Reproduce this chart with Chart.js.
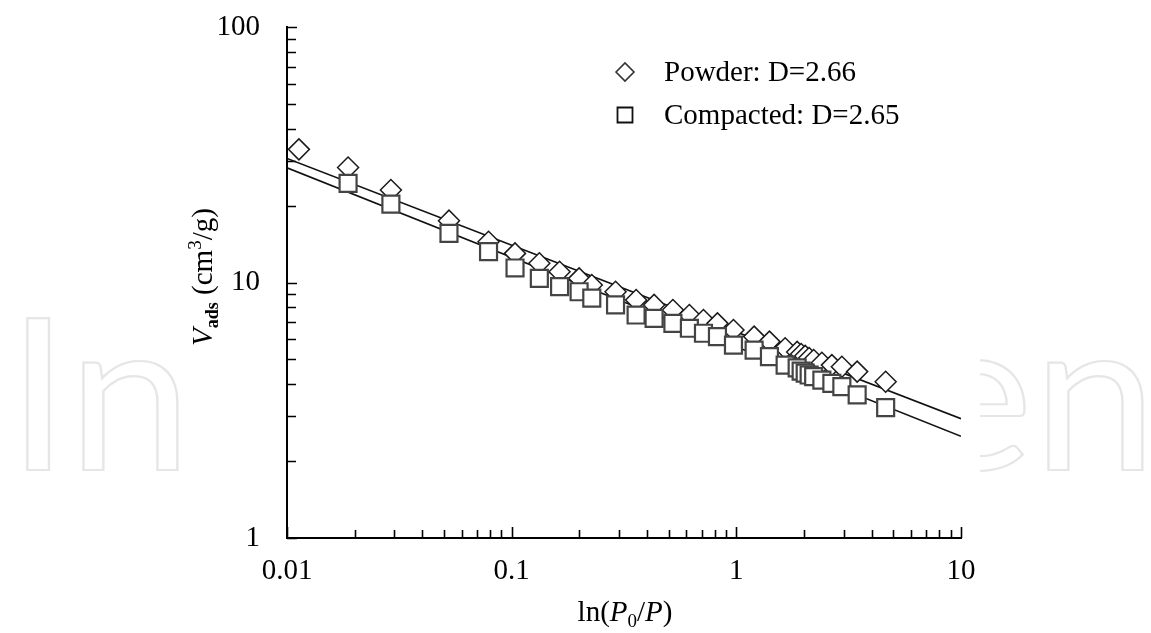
<!DOCTYPE html>
<html>
<head>
<meta charset="utf-8">
<script src="https://cdn.jsdelivr.net/npm/chart.js"></script>
<style>
  html, body { margin: 0; padding: 0; background: #fff; }
  #wrap { width: 1151px; height: 633px; }
</style>
</head>
<body>
<div id="wrap"><canvas id="c" width="1151" height="633"></canvas></div>
<script>
// Fractal (FHH) plot: adsorbed volume vs ln(P0/P), log-log
const powderX = [0.0113, 0.0187, 0.029, 0.0526, 0.0789, 0.1035, 0.1328, 0.1634, 0.1996, 0.2273,
                 0.290, 0.358, 0.4305, 0.522, 0.618, 0.714, 0.824, 0.971, 1.20, 1.404,
                 1.649, 1.865, 1.943, 2.025, 2.109, 2.209, 2.403, 2.662, 2.949, 3.45, 4.62];
const powderY = [33.2, 28.2, 23.0, 17.46, 14.44, 13.0, 11.89, 11.02, 10.38, 9.78,
                 9.20, 8.54, 8.17, 7.80, 7.46, 7.13, 6.92, 6.52, 6.14, 5.87,
                 5.53, 5.35, 5.25, 5.16, 5.06, 4.97, 4.85, 4.75, 4.68, 4.48, 4.09];
const compactedX = [0.0187, 0.029, 0.0526, 0.0789, 0.1035, 0.1328, 0.1634, 0.1996, 0.2273,
                    0.290, 0.358, 0.4305, 0.522, 0.618, 0.714, 0.824, 0.971, 1.20, 1.404,
                    1.649, 1.865, 1.943, 2.025, 2.109, 2.209, 2.403, 2.662, 2.949, 3.45, 4.62];
const compactedY = [24.45, 20.28, 15.58, 13.20, 11.40, 10.38, 9.63, 9.20, 8.68,
                    8.17, 7.46, 7.24, 6.92, 6.62, 6.33, 6.14, 5.69, 5.44, 5.13,
                    4.75, 4.63, 4.50, 4.42, 4.345, 4.28, 4.15, 4.03, 3.91, 3.63, 3.24];

// fitted power-law lines, end points at the axis limits
const powderFitX = [0.01, 10];
const powderFitY = [30.6, 2.93];
const compactedFitX = [0.01, 10];
const compactedFitY = [28.1, 2.50];

const xTickValues = [0.01, 0.1, 1, 10];
const yTickValues = [1, 10, 100];
const minorMultipliers = [2, 3, 4, 5, 6, 7, 8, 9];
const legendLabels = ['Powder: D=2.66', 'Compacted: D=2.65'];

const SERIF = '"Liberation Serif", "Times New Roman", serif';
const pts = (xs, ys) => xs.map((x, i) => ({ x: x, y: ys[i] }));

function drawRuns(ctx, runs, x, y, align) {
  // runs: [text, font, dy]
  let total = 0;
  const widths = runs.map(r => { ctx.font = r[1]; const w = ctx.measureText(r[0]).width; total += w; return w; });
  let cx = align === 'center' ? x - total / 2 : x;
  runs.forEach((r, i) => {
    ctx.font = r[1];
    ctx.fillText(r[0], cx, y + (r[2] || 0));
    cx += widths[i];
  });
}

function diamondPath(ctx, x, y, r) {
  ctx.beginPath();
  ctx.moveTo(x - r, y); ctx.lineTo(x, y - r); ctx.lineTo(x + r, y); ctx.lineTo(x, y + r);
  ctx.closePath();
}

const decorations = {
  id: 'decorations',
  beforeDraw(chart) {
    const ctx = chart.ctx;
    ctx.save();
    ctx.fillStyle = '#fff';
    ctx.fillRect(0, 0, chart.width, chart.height);
    // faint publisher watermark behind the figure
    ctx.font = '212px Lato';
    const text = 'IntechOpen';
    const w = ctx.measureText(text).width;
    ctx.translate(7, 470);
    ctx.scale(1150 / w, 1);
    ctx.strokeStyle = '#e6e6e6';
    ctx.lineWidth = 2.2;
    ctx.strokeText(text, 0, 0);
    ctx.restore();
    ctx.save();
    ctx.fillStyle = '#fff';
    ctx.fillRect(192, 0, 980 - 192, chart.height);
    ctx.restore();
  },
  beforeDatasetsDraw(chart) {
    const ctx = chart.ctx;
    const xs = chart.scales.x, ys = chart.scales.y;
    const { left, bottom } = chart.chartArea;
    ctx.save();
    ctx.strokeStyle = '#000';
    ctx.lineWidth = 1.6;
    ctx.beginPath();
    xTickValues.forEach((d, i) => {
      const p = Math.round(xs.getPixelForValue(d)) + 0.5;
      ctx.moveTo(p, bottom); ctx.lineTo(p, bottom - 11);
      if (i < xTickValues.length - 1) {
        minorMultipliers.forEach(m => {
          const q = Math.round(xs.getPixelForValue(m * d)) + 0.5;
          ctx.moveTo(q, bottom); ctx.lineTo(q, bottom - 8);
        });
      }
    });
    yTickValues.forEach((d, i) => {
      const p = Math.round(ys.getPixelForValue(d)) + 0.5;
      ctx.moveTo(left, p); ctx.lineTo(left + 10, p);
      if (i < yTickValues.length - 1) {
        minorMultipliers.forEach(m => {
          const q = Math.round(ys.getPixelForValue(m * d)) + 0.5;
          ctx.moveTo(left, q); ctx.lineTo(left + 9, q);
        });
      }
    });
    ctx.stroke();
    ctx.restore();
  },
  afterDraw(chart) {
    const ctx = chart.ctx;
    const { left, right } = chart.chartArea;
    ctx.save();
    ctx.fillStyle = '#000';
    ctx.textBaseline = 'alphabetic';
    ctx.textAlign = 'left';
    // x axis title: ln(P0/P)
    const big = '29px ' + SERIF, it = 'italic 29px ' + SERIF, sm = '19px ' + SERIF;
    drawRuns(ctx, [['ln(', big], ['P', it], ['0', sm, 6], ['/', big], ['P', it], [')', big]],
      (left + right) / 2 + 1, 621, 'center');
    // y axis title: Vads (cm3/g)
    ctx.save();
    ctx.translate(212, 277);
    ctx.rotate(-Math.PI / 2);
    drawRuns(ctx, [['V', it], ['ads', 'bold 18px ' + SERIF, 6], [' (cm', big], ['3', sm, -11], ['/g)', big]],
      0, 0, 'center');
    ctx.restore();
    // legend
    ctx.lineWidth = 1.6;
    ctx.strokeStyle = '#333';
    ctx.fillStyle = '#fff';
    diamondPath(ctx, 625, 72, 9);
    ctx.fill(); ctx.stroke();
    ctx.strokeStyle = '#111';
    ctx.lineWidth = 1.8;
    ctx.beginPath();
    ctx.rect(617.5, 107.5, 15, 15);
    ctx.fill(); ctx.stroke();
    ctx.fillStyle = '#000';
    ctx.font = big;
    ctx.fillText(legendLabels[0], 664, 80.5);
    ctx.fillText(legendLabels[1], 664, 124);
    ctx.restore();
  }
};

const axisFont = { family: SERIF, size: 29 };

new Chart(document.getElementById('c'), {
  type: 'scatter',
  data: {
    datasets: [
      {
        label: legendLabels[1],
        data: pts(compactedX, compactedY),
        pointStyle: 'rect',
        pointRadius: 12,
        borderWidth: 2.2,
        borderColor: '#444',
        backgroundColor: '#fff',
        order: 1
      },
      {
        label: legendLabels[0],
        data: pts(powderX, powderY),
        pointStyle: 'rectRot',
        pointRadius: 10.5,
        borderWidth: 1.5,
        borderColor: '#1a1a1a',
        backgroundColor: '#fff',
        order: 2
      },
      {
        label: 'powder fit',
        data: pts(powderFitX, powderFitY),
        showLine: true,
        pointRadius: 0,
        borderColor: '#111',
        borderWidth: 1.6,
        fill: false,
        order: 3
      },
      {
        label: 'compacted fit',
        data: pts(compactedFitX, compactedFitY),
        showLine: true,
        pointRadius: 0,
        borderColor: '#111',
        borderWidth: 1.6,
        fill: false,
        order: 3
      }
    ]
  },
  options: {
    responsive: false,
    animation: false,
    devicePixelRatio: 1,
    layout: { padding: { left: 0, right: 190, top: 27, bottom: 0 } },
    plugins: { legend: { display: false }, tooltip: { enabled: false } },
    scales: {
      x: {
        type: 'logarithmic',
        min: 0.01,
        max: 10,
        afterBuildTicks: s => { s.ticks = xTickValues.map(v => ({ value: v, major: true })); },
        afterFit: s => { s.height = 95; s.paddingLeft = 0; s.paddingRight = 0; },
        ticks: { font: axisFont, color: '#000', padding: 16, maxRotation: 0, autoSkip: false,
                 callback: v => String(v) },
        grid: { display: false, drawTicks: false },
        border: { display: true, color: '#000', width: 2 }
      },
      y: {
        type: 'logarithmic',
        min: 1,
        max: 100,
        afterBuildTicks: s => { s.ticks = yTickValues.map(v => ({ value: v, major: true })); },
        afterFit: s => { s.width = 287; s.paddingTop = 0; s.paddingBottom = 0; },
        ticks: { font: axisFont, color: '#000', padding: 27, autoSkip: false,
                 callback: v => String(v) },
        grid: { display: false, drawTicks: false },
        border: { display: true, color: '#000', width: 2 }
      }
    }
  },
  plugins: [decorations]
});
</script>
</body>
</html>
